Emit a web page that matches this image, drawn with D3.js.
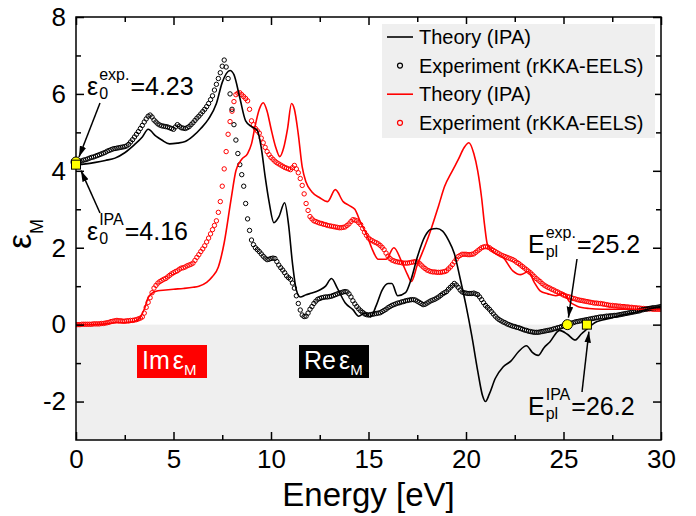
<!DOCTYPE html>
<html lang="en">
<head>
  <meta charset="UTF-8">
  <title>Dielectric function</title>
  <style>
    body {
      margin: 0;
      padding: 0;
      background: #fff;
    }

    svg {
      font-family: "Liberation Sans", Arial, sans-serif;
    }

    .axis text {
      font-size: 26px;
      fill: #000;
    }

    .axis line {
      stroke: #000;
      stroke-width: 1.5px;
    }

    .eq text {
      fill: #000;
    }
  </style>
</head>
<body>
  <div id="chart"></div>

  <script src="https://d3js.org/d3.v7.min.js"></script>
  <script>
    // experimental spectra, one value every 0.1 eV from 0 to 30 eV
    var energyStep = 0.1;

    var reExp = [
      4.23, 4.24, 4.25, 4.26, 4.28, 4.29, 4.31, 4.33, 4.35, 4.36,
      4.38, 4.4, 4.42, 4.44, 4.46, 4.48, 4.51, 4.53, 4.55, 4.57,
      4.58, 4.59, 4.6, 4.61, 4.62, 4.63, 4.65, 4.69, 4.75, 4.81,
      4.88, 4.95, 5.02, 5.1, 5.18, 5.27, 5.35, 5.42, 5.45, 5.4,
      5.32, 5.27, 5.22, 5.19, 5.17, 5.16, 5.15, 5.14, 5.12, 5.1,
      5.08, 5.14, 5.2, 5.16, 5.12, 5.11, 5.1, 5.12, 5.15, 5.2,
      5.25, 5.31, 5.37, 5.42, 5.48, 5.54, 5.6, 5.67, 5.75, 5.85,
      5.95, 6.1, 6.25, 6.4, 6.55, 6.72, 6.88, 6.7, 6.4, 6.0,
      5.6, 5.2, 4.8, 4.45, 4.16, 3.9, 3.6, 3.15, 2.75, 2.45,
      2.2, 2.08, 2.0, 1.95, 1.9, 1.84, 1.78, 1.73, 1.69, 1.7,
      1.72, 1.73, 1.72, 1.64, 1.55, 1.48, 1.42, 1.35, 1.27, 1.22,
      1.18, 1.08, 0.95, 0.75, 0.55, 0.38, 0.25, 0.21, 0.22, 0.3,
      0.4, 0.47, 0.55, 0.61, 0.66, 0.68, 0.7, 0.71, 0.72, 0.72,
      0.73, 0.74, 0.76, 0.78, 0.8, 0.82, 0.83, 0.85, 0.86, 0.85,
      0.8, 0.72, 0.62, 0.54, 0.47, 0.41, 0.36, 0.32, 0.28, 0.26,
      0.25, 0.26, 0.27, 0.28, 0.29, 0.3, 0.31, 0.34, 0.37, 0.4,
      0.44, 0.47, 0.5, 0.52, 0.54, 0.56, 0.57, 0.59, 0.6, 0.62,
      0.63, 0.64, 0.65, 0.65, 0.64, 0.61, 0.58, 0.55, 0.52, 0.53,
      0.56, 0.59, 0.62, 0.64, 0.66, 0.69, 0.72, 0.76, 0.8, 0.83,
      0.86, 0.92, 0.97, 1.02, 1.07, 1.03, 0.97, 0.9, 0.85, 0.83,
      0.82, 0.81, 0.81, 0.81, 0.82, 0.8, 0.78, 0.72, 0.65, 0.57,
      0.5, 0.45, 0.4, 0.34, 0.28, 0.22, 0.17, 0.13, 0.1, 0.07,
      0.05, 0.02, 0.0, -0.02, -0.04, -0.05, -0.07, -0.08, -0.1, -0.12,
      -0.14, -0.15, -0.17, -0.18, -0.19, -0.2, -0.2, -0.2, -0.19, -0.18,
      -0.17, -0.16, -0.15, -0.14, -0.13, -0.11, -0.1, -0.08, -0.07, -0.05,
      -0.03, -0.01, 0.0, 0.02, 0.04, 0.05, 0.07, 0.08, 0.09, 0.1,
      0.11, 0.12, 0.13, 0.14, 0.15, 0.16, 0.17, 0.18, 0.19, 0.2,
      0.2, 0.21, 0.22, 0.22, 0.23, 0.23, 0.24, 0.24, 0.25, 0.26,
      0.27, 0.28, 0.29, 0.3, 0.31, 0.32, 0.33, 0.34, 0.35, 0.36,
      0.38, 0.39, 0.4, 0.41, 0.42, 0.43, 0.44, 0.44, 0.45, 0.46,
      0.47
    ];

    var imExp = [
      0.0, 0.0, 0.0, 0.01, 0.01, 0.01, 0.01, 0.01, 0.01, 0.02,
      0.02, 0.02, 0.02, 0.03, 0.03, 0.04, 0.05, 0.06, 0.08, 0.09,
      0.1, 0.11, 0.1, 0.1, 0.09, 0.09, 0.1, 0.1, 0.11, 0.11,
      0.12, 0.13, 0.15, 0.17, 0.2, 0.3, 0.45, 0.58, 0.7, 0.83,
      0.95, 1.02, 1.08, 1.12, 1.15, 1.18, 1.2, 1.24, 1.28, 1.32,
      1.35, 1.38, 1.4, 1.44, 1.47, 1.48, 1.5, 1.53, 1.55, 1.57,
      1.6, 1.67, 1.75, 1.82, 1.9, 1.97, 2.05, 2.15, 2.25, 2.36,
      2.47, 2.58, 2.7, 2.92, 3.2, 3.6, 4.05, 4.5, 4.95, 5.28,
      5.55, 5.8, 5.98, 6.02, 6.03, 5.98, 5.93, 5.88, 5.82, 5.6,
      5.3, 5.2, 5.1, 5.04, 4.98, 4.85, 4.73, 4.61, 4.5, 4.42,
      4.35, 4.3, 4.25, 4.21, 4.18, 4.15, 4.12, 4.09, 4.07, 4.05,
      4.03, 4.08, 4.14, 4.05, 3.95, 3.8, 3.62, 3.4, 3.15, 2.97,
      2.81, 2.75, 2.7, 2.68, 2.66, 2.64, 2.63, 2.61, 2.6, 2.58,
      2.57, 2.56, 2.55, 2.54, 2.53, 2.52, 2.52, 2.53, 2.54, 2.58,
      2.62, 2.68, 2.73, 2.72, 2.7, 2.65, 2.6, 2.5, 2.4, 2.32,
      2.25, 2.21, 2.18, 2.15, 2.13, 2.1, 2.06, 2.01, 1.95, 1.86,
      1.78, 1.72, 1.68, 1.66, 1.64, 1.63, 1.62, 1.61, 1.6, 1.6,
      1.6, 1.61, 1.62, 1.63, 1.64, 1.63, 1.6, 1.55, 1.5, 1.46,
      1.42, 1.4, 1.38, 1.37, 1.37, 1.36, 1.36, 1.36, 1.37, 1.38,
      1.4, 1.45, 1.5, 1.56, 1.63, 1.7, 1.77, 1.8, 1.83, 1.83,
      1.83, 1.82, 1.82, 1.83, 1.84, 1.88, 1.92, 1.96, 2.0, 2.02,
      2.03, 2.02, 2.0, 1.96, 1.93, 1.9, 1.87, 1.84, 1.81, 1.79,
      1.77, 1.75, 1.73, 1.71, 1.69, 1.66, 1.62, 1.59, 1.55, 1.51,
      1.47, 1.43, 1.39, 1.35, 1.3, 1.25, 1.2, 1.16, 1.12, 1.07,
      1.03, 1.0, 0.97, 0.95, 0.92, 0.9, 0.87, 0.85, 0.82, 0.8,
      0.77, 0.75, 0.73, 0.72, 0.7, 0.68, 0.67, 0.65, 0.64, 0.63,
      0.62, 0.61, 0.6, 0.59, 0.58, 0.57, 0.56, 0.56, 0.55, 0.55,
      0.54, 0.53, 0.52, 0.51, 0.5, 0.5, 0.49, 0.49, 0.48, 0.48,
      0.47, 0.47, 0.46, 0.46, 0.45, 0.45, 0.44, 0.44, 0.43, 0.43,
      0.42, 0.42, 0.41, 0.41, 0.41, 0.41, 0.4, 0.4, 0.4, 0.4,
      0.4
    ];

    // theory (IPA) curves, read at the points where the shape changes
    var reThE = [0, 0.5, 1, 1.5, 2, 2.5, 3, 3.4, 3.7, 4.1, 4.4, 4.8, 5.2, 5.6, 6, 6.4, 6.8, 7.2, 7.5, 7.9,
      8.1, 8.4, 8.7, 9.0, 9.3, 9.5, 9.7, 9.9, 10.15, 10.4, 10.7, 10.9, 11.1, 11.3, 11.5, 11.8, 12.1, 12.5, 12.8, 13.1,
      13.4, 13.8, 14.2, 14.5, 14.8, 15.1, 15.4, 15.7, 16.0, 16.2, 16.5, 16.9, 17.2, 17.5, 17.9, 18.2, 18.5, 18.8, 19.1, 19.4,
      19.7, 20.0, 20.3, 20.6, 20.85, 21.0, 21.2, 21.5, 21.9, 22.3, 22.7, 23.1, 23.4, 23.7, 24.0, 24.3, 24.8, 25.2, 25.6, 25.9,
      26.2, 26.6, 27.0, 27.5, 28, 28.5, 29, 29.5, 30];
    var reTh = [4.16, 4.18, 4.22, 4.27, 4.33, 4.47, 4.68, 4.88, 5.08, 4.9, 4.8, 4.7, 4.72, 4.76, 4.9, 5.1, 5.35, 5.75, 6.3, 6.61,
      6.5, 5.9, 5.3, 5.15, 5.05, 4.6, 3.85, 3.2, 2.65, 2.8, 3.17, 2.6, 1.6, 0.9, 0.72, 0.78, 0.82, 0.9, 1.0, 1.2,
      0.95, 0.57, 0.39, 0.22, 0.3, 0.2, 0.5, 0.9, 1.07, 1.07, 0.75, 0.83, 1.2, 1.75, 2.3, 2.48, 2.5, 2.43, 2.2, 1.85,
      1.2, 0.5, -0.3, -1.2, -1.85, -2.0, -1.8, -1.4, -1.1, -0.95, -0.7, -0.55, -0.72, -0.8, -0.6, -0.45, -0.15, -0.25, -0.4, -0.25,
      -0.12, 0.05, 0.12, 0.18, 0.25, 0.3, 0.36, 0.42, 0.47];

    var imThE = [0, 1, 1.5, 2, 2.5, 3, 3.3, 3.5, 3.7, 3.9, 4.2, 4.6, 5.0, 5.5, 6.0, 6.3, 6.7, 7.0, 7.3, 7.6,
      7.95, 8.2, 8.5, 8.8, 9.0, 9.2, 9.4, 9.6, 9.8, 10.0, 10.25, 10.45, 10.65, 10.85, 11.05, 11.2, 11.4, 11.6, 11.8, 12.1,
      12.5, 12.9, 13.3, 13.7, 14.0, 14.3, 14.6, 14.9, 15.2, 15.5, 15.9, 16.3, 16.7, 17.0, 17.2, 17.5, 17.9, 18.2, 18.6, 18.9,
      19.3, 19.6, 19.9, 20.15, 20.4, 20.6, 20.8, 20.95, 21.1, 21.5, 21.9, 22.4, 22.8, 23.2, 23.5, 23.8, 24.2, 24.6, 25.0, 25.3,
      25.7, 26.3, 27.0, 28.0, 29.0, 30];
    var imTh = [0, 0.01, 0.02, 0.05, 0.05, 0.08, 0.2, 0.4, 0.7, 0.82, 0.88, 0.9, 0.92, 0.94, 0.97, 1.0, 1.1, 1.25, 1.5, 2.13,
      3.25, 4.0, 4.3, 4.45, 4.7, 5.2, 5.6, 5.77, 5.55, 5.1, 4.6, 4.37, 4.6, 5.1, 5.75, 5.6, 4.95, 4.1, 3.7, 3.45,
      3.3, 3.2, 3.51, 3.2, 3.1, 3.0, 2.65, 2.35, 1.95, 1.7, 1.7, 2.0, 1.64, 1.3, 1.12, 1.55, 2.05, 2.47, 3.1, 3.59,
      4.0, 4.29, 4.6, 4.73, 4.45, 4.0, 3.3, 2.6, 2.08, 1.85, 1.75, 1.4, 1.3, 1.38, 1.1, 0.88, 0.8, 0.75, 0.82, 0.6,
      0.48, 0.42, 0.4, 0.4, 0.4, 0.4];

    var xTicks = [0, 5, 10, 15, 20, 25, 30];
    var xMinor = [2.5, 7.5, 12.5, 17.5, 22.5, 27.5];
    var yTicks = [-2, 0, 2, 4, 6, 8];
    var yMinor = [-1, 1, 3, 5, 7];

    var legendLabels = ["Theory (IPA)", "Experiment (rKKA-EELS)", "Theory (IPA)", "Experiment (rKKA-EELS)"];
    var legendColors = ["#000", "#000", "#f00", "#f00"];
    var legendKinds = ["line", "dot", "line", "dot"];

    // static dielectric constants and plasmon energies
    var marks = [
      { e: 0, v: 4.23, shape: "circle" },
      { e: 0, v: 4.16, shape: "square" },
      { e: 25.2, v: 0, shape: "circle" },
      { e: 26.2, v: 0, shape: "square" }
    ];

    var width = 696;
    var height = 516;
    // (window.top is read-only, so the plot box gets its own names)
    var plotL = 76, plotR = 661, plotT = 17, plotB = 440;

    var x = d3.scaleLinear().domain([0, 30]).range([plotL, plotR]);
    var y = d3.scaleLinear().domain([-3, 8]).range([plotB, plotT]);

    var svg = d3.select("#chart")
      .append("svg")
      .attr("width", width)
      .attr("height", height);

    var defs = svg.append("defs");
    defs.append("clipPath")
      .attr("id", "plot")
      .append("rect")
      .attr("x", plotL).attr("y", plotT)
      .attr("width", plotR - plotL).attr("height", plotB - plotT);

    defs.append("marker")
      .attr("id", "arrow")
      .attr("viewBox", "0 0 10 6")
      .attr("markerUnits", "userSpaceOnUse")
      .attr("markerWidth", 11)
      .attr("markerHeight", 7)
      .attr("refX", 10)
      .attr("refY", 3)
      .attr("orient", "auto")
      .append("path")
      .attr("d", "M0,0L10,3L0,6Z")
      .attr("fill", "#000");

    // grey band for negative values
    svg.append("rect")
      .attr("x", plotL)
      .attr("y", y(0))
      .attr("width", plotR - plotL)
      .attr("height", y(-3) - y(0))
      .attr("fill", "#efefef");

    var plot = svg.append("g").attr("clip-path", "url(#plot)");

    var line = d3.line()
      .x(function(d) { return x(d[0]); })
      .y(function(d) { return y(d[1]); })
      .curve(d3.curveMonotoneX);

    function dots(values, color) {
      plot.append("g")
        .selectAll("circle")
        .data(values)
        .enter().append("circle")
        .attr("cx", function(d, i) { return x(i * energyStep); })
        .attr("cy", function(d) { return y(d); })
        .attr("r", 2.2)
        .attr("fill", "none")
        .attr("stroke", color)
        .attr("stroke-width", 1);
    }

    function curve(es, vs, color) {
      plot.append("path")
        .datum(es.map(function(e, i) { return [e, vs[i]]; }))
        .attr("d", line)
        .attr("fill", "none")
        .attr("stroke", color)
        .attr("stroke-width", 1.6);
    }

    dots(imExp, "#f00");
    dots(reExp, "#000");
    curve(imThE, imTh, "#f00");
    curve(reThE, reTh, "#000");

    // axes, ticks pointing inward on all four sides
    function noDomain(g) { g.select(".domain").remove(); }
    var fmt = function(d) { return String(d); };

    svg.append("g").attr("class", "axis")
      .attr("transform", "translate(0," + plotB + ")")
      .call(d3.axisBottom(x).tickValues(xTicks).tickFormat(fmt).tickSize(-8).tickPadding(10))
      .call(noDomain);
    svg.append("g").attr("class", "axis")
      .attr("transform", "translate(0," + plotB + ")")
      .call(d3.axisBottom(x).tickValues(xMinor).tickFormat("").tickSize(-5))
      .call(noDomain);
    svg.append("g").attr("class", "axis")
      .attr("transform", "translate(0," + plotT + ")")
      .call(d3.axisTop(x).tickValues(xTicks).tickFormat("").tickSize(-8))
      .call(noDomain);
    svg.append("g").attr("class", "axis")
      .attr("transform", "translate(0," + plotT + ")")
      .call(d3.axisTop(x).tickValues(xMinor).tickFormat("").tickSize(-5))
      .call(noDomain);

    svg.append("g").attr("class", "axis")
      .attr("transform", "translate(" + plotL + ",0)")
      .call(d3.axisLeft(y).tickValues(yTicks).tickFormat(fmt).tickSize(-8).tickPadding(10))
      .call(noDomain);
    svg.append("g").attr("class", "axis")
      .attr("transform", "translate(" + plotL + ",0)")
      .call(d3.axisLeft(y).tickValues(yMinor).tickFormat("").tickSize(-5))
      .call(noDomain);
    svg.append("g").attr("class", "axis")
      .attr("transform", "translate(" + plotR + ",0)")
      .call(d3.axisRight(y).tickValues(yTicks).tickFormat("").tickSize(-8))
      .call(noDomain);
    svg.append("g").attr("class", "axis")
      .attr("transform", "translate(" + plotR + ",0)")
      .call(d3.axisRight(y).tickValues(yMinor).tickFormat("").tickSize(-5))
      .call(noDomain);

    svg.selectAll(".axis").attr("font-family", null).attr("font-size", null);

    svg.append("rect")
      .attr("x", plotL).attr("y", plotT)
      .attr("width", plotR - plotL).attr("height", plotB - plotT)
      .attr("fill", "none")
      .attr("stroke", "#000")
      .attr("stroke-width", 1.5);

    // axis titles
    svg.append("text")
      .attr("x", (plotL + plotR) / 2)
      .attr("y", 506)
      .attr("text-anchor", "middle")
      .style("font-size", "33px")
      .text("Energy [eV]");

    var ylab = svg.append("text")
      .attr("transform", "translate(31,234)rotate(-90)")
      .attr("text-anchor", "middle")
      .style("font-size", "34px");
    ylab.append("tspan").text("ε");
    ylab.append("tspan").attr("dy", 12).style("font-size", "18px").text("M");

    // legend
    var legend = svg.append("g");
    legend.append("rect")
      .attr("x", 382).attr("y", 24)
      .attr("width", 273).attr("height", 114)
      .attr("fill", "#efefef");

    legendLabels.forEach(function(label, i) {
      var ly = 37 + i * 28.6;
      if (legendKinds[i] === "line") {
        legend.append("line")
          .attr("x1", 387).attr("x2", 413)
          .attr("y1", ly).attr("y2", ly)
          .attr("stroke", legendColors[i])
          .attr("stroke-width", 1.6);
      } else {
        legend.append("circle")
          .attr("cx", 400).attr("cy", ly)
          .attr("r", 2.5)
          .attr("fill", "none")
          .attr("stroke", legendColors[i])
          .attr("stroke-width", 1.2);
      }
      legend.append("text")
        .attr("x", 419).attr("y", ly)
        .attr("dy", "0.35em")
        .style("font-size", "20px")
        .text(label);
    });

    // Im / Re tags
    function tag(x0, fill, head) {
      svg.append("rect")
        .attr("x", x0).attr("y", 345)
        .attr("width", 70).attr("height", 33)
        .attr("fill", fill);
      var t = svg.append("text")
        .attr("x", x0 + 5).attr("y", 369)
        .attr("fill", "#fff")
        .style("font-size", "25px");
      t.append("tspan").text(head);
      t.append("tspan").attr("dx", 3).text("ε");
      t.append("tspan").attr("dy", 6).style("font-size", "15px").text("M");
    }
    tag(137, "#f00", "Im");
    tag(299, "#000", "Re");

    // annotation labels: base, subscript, superscript, value
    function eqLabel(x0, y0, base, sub, sup, rest) {
      var g = svg.append("g").attr("class", "eq");
      var b = g.append("text").attr("x", x0).attr("y", y0).style("font-size", "25px").text(base);
      var sx = x0 + b.node().getComputedTextLength() + 1;
      var s1 = g.append("text").attr("x", sx).attr("y", y0 + 4).style("font-size", "16px").text(sub);
      var s2 = g.append("text").attr("x", sx).attr("y", y0 - 15).style("font-size", "16px").text(sup);
      var rx = sx + Math.max(s1.node().getComputedTextLength(), s2.node().getComputedTextLength()) + 1;
      g.append("text").attr("x", rx).attr("y", y0).style("font-size", "25px").text(rest);
    }
    eqLabel(87, 95, "ε", "0", "exp.", "=4.23");
    eqLabel(87, 240, "ε", "0", "IPA", "=4.16");
    eqLabel(528, 253, "E", "pl", "exp.", "=25.2");
    eqLabel(528, 415, "E", "pl", "IPA", "=26.2");

    // arrows from labels to the marked points
    var arrows = [
      [100, 103, 0, 4.23, 3, -5],
      [100, 213, 0, 4.16, 5, 6],
      [577, 259, 25.2, 0, 1, -7],
      [582, 392, 26.2, 0, 2, 7]
    ];
    arrows.forEach(function(a) {
      svg.append("line")
        .attr("x1", a[0]).attr("y1", a[1])
        .attr("x2", x(a[2]) + a[4]).attr("y2", y(a[3]) + a[5])
        .attr("stroke", "#000")
        .attr("stroke-width", 1.5)
        .attr("marker-end", "url(#arrow)");
    });

    marks.forEach(function(m) {
      if (m.shape === "circle") {
        svg.append("circle")
          .attr("cx", x(m.e)).attr("cy", y(m.v))
          .attr("r", 5)
          .attr("fill", "#ffff00")
          .attr("stroke", "#000")
          .attr("stroke-width", 1);
      } else {
        svg.append("rect")
          .attr("x", x(m.e) - 4.5).attr("y", y(m.v) - 4.5)
          .attr("width", 9).attr("height", 9)
          .attr("fill", "#ffff00")
          .attr("stroke", "#000")
          .attr("stroke-width", 1);
      }
    });
  </script>
</body>
</html>
